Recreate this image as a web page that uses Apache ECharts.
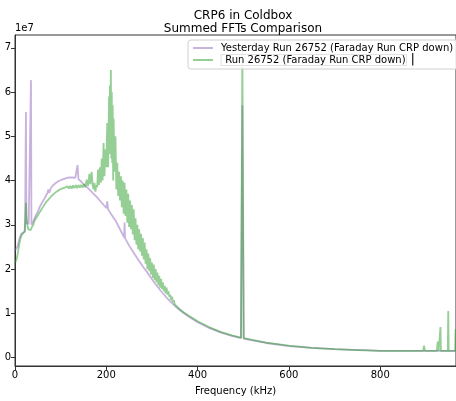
<!DOCTYPE html>
<html>
<head>
<meta charset="utf-8">
<script src="https://cdn.jsdelivr.net/npm/echarts@6/dist/echarts.min.js"></script>
<style>
  html, body { margin: 0; padding: 0; background: #fff; }
  #main { width: 456px; height: 401px; }
</style>
</head>
<body>
<div id="main"></div>
<script>
// values in units of 1e7, frequency in kHz
const yesterdayName = 'Yesterday Run 26752 (Faraday Run CRP down)'
const todayName = ' Run 26752 (Faraday Run CRP down)'

const yesterday = [
  [0, 2.42], [5, 2.5], [10, 2.7], [14, 2.8], [18, 2.82], [22, 2.85], [23, 4.3], [24, 5.55], [25, 3.05],
  [30, 3.02], [34, 2.98], [35, 6.27], [36, 3.0], [40, 3.08], [45, 3.2], [50, 3.3], [53, 3.38],
  [56, 3.4], [59, 3.5], [62, 3.52], [65, 3.6], [68, 3.62], [71, 3.72], [73, 3.8], [75, 3.72],
  [78, 3.82], [81, 3.84], [84, 3.9], [87, 3.88], [90, 3.95], [93, 3.94], [96, 3.99], [99, 3.97],
  [102, 4.02], [105, 4.0], [108, 4.04], [111, 4.02], [114, 4.06], [117, 4.04], [120, 4.07],
  [123, 4.05], [126, 4.07], [129, 4.05], [132, 4.06], [135, 4.04], [137, 4.35], [139, 4.03],
  [145, 3.98], [150, 3.92], [160, 3.83], [170, 3.72], [180, 3.62], [190, 3.5], [200, 3.38],
  [202, 3.53], [204, 3.35], [210, 3.25], [220, 3.1], [230, 2.9], [239, 2.72], [240, 3.05],
  [241, 2.7], [250, 2.53], [260, 2.37], [270, 2.21], [280, 2.06], [290, 1.92], [300, 1.77],
  [310, 1.63], [320, 1.5], [330, 1.38], [340, 1.27], [350, 1.17], [360, 1.08], [370, 1.0],
  [380, 0.93], [400, 0.8], [425, 0.67], [450, 0.57], [475, 0.49], [495, 0.44], [498, 5.7],
  [501, 0.43], [520, 0.39], [550, 0.33], [600, 0.26], [650, 0.22], [700, 0.19], [750, 0.17],
  [768, 0.17], [769, 0.2], [770, 0.16], [800, 0.15], [850, 0.15], [900, 0.15], [966, 0.15]
]

const today = [
  [0, 2.15], [3, 2.2], [6, 2.35], [9, 2.55], [12, 2.7], [15, 2.78], [18, 2.8], [21, 2.85],
  [23, 3.2], [24, 3.5], [25, 3.2], [27, 3.0], [29, 2.9], [31, 2.92], [34, 2.88], [37, 2.95],
  [40, 3.0], [43, 3.1], [46, 3.08], [49, 3.2], [52, 3.18], [55, 3.3], [58, 3.28], [61, 3.4],
  [64, 3.38], [67, 3.5], [70, 3.47], [73, 3.57], [76, 3.55], [79, 3.64], [82, 3.6], [85, 3.7],
  [88, 3.67], [91, 3.75], [94, 3.71], [97, 3.79], [100, 3.75], [103, 3.82], [106, 3.78],
  [109, 3.84], [112, 3.8], [115, 3.87], [118, 3.82], [121, 3.88], [124, 3.82], [127, 3.89],
  [130, 3.83], [133, 3.9], [136, 3.83], [139, 3.9], [142, 3.84], [145, 3.9], [148, 3.84],
  [151, 3.92], [154, 3.85], [157, 4.02], [160, 3.88], [163, 4.15], [165, 3.92], [168, 4.2],
  [170, 3.9], [172, 3.8], [174, 3.95], [176, 3.75], [178, 3.9], [180, 3.85], [182, 4.25],
  [184, 3.9], [186, 4.3], [188, 3.95], [190, 4.5], [192, 4.0], [194, 4.85], [196, 4.1],
  [198, 4.7], [200, 4.3], [202, 5.3], [204, 4.3], [206, 5.9], [207, 4.6], [208, 6.15],
  [209, 4.8], [210, 6.5], [211, 4.5], [212, 6.0], [213, 4.4], [214, 5.7], [215, 4.0],
  [216, 5.4], [218, 4.2], [220, 5.0], [222, 3.8], [224, 4.4], [226, 3.65], [228, 4.2],
  [230, 3.55], [232, 4.1], [234, 3.4], [236, 4.0], [238, 3.25], [240, 3.95], [242, 3.2],
  [244, 3.8], [246, 3.05], [248, 3.7], [250, 2.95], [252, 3.55], [254, 2.9], [256, 3.45],
  [258, 2.78], [260, 3.35], [262, 2.65], [264, 3.15], [266, 2.55], [268, 3.0], [270, 2.45],
  [272, 2.9], [274, 2.4], [276, 2.8], [278, 2.3], [280, 2.7], [282, 2.22], [284, 2.6],
  [286, 2.12], [288, 2.45], [290, 2.0], [292, 2.35], [294, 1.95], [296, 2.25], [298, 1.88],
  [300, 2.15], [302, 1.8], [304, 2.1], [306, 1.75], [308, 2.0], [310, 1.7], [312, 1.92],
  [314, 1.63], [316, 1.85], [318, 1.58], [320, 1.78], [322, 1.55], [324, 1.7], [326, 1.5],
  [328, 1.62], [330, 1.45], [332, 1.58], [334, 1.42], [336, 1.5], [338, 1.37], [340, 1.42],
  [342, 1.3], [344, 1.38], [346, 1.25], [348, 1.3], [350, 1.2], [355, 1.15], [360, 1.1],
  [370, 1.02], [380, 0.95], [400, 0.82], [425, 0.69], [450, 0.58], [475, 0.5], [495, 0.45],
  [498, 7.0], [501, 0.44], [520, 0.4], [550, 0.34], [600, 0.27], [650, 0.22], [700, 0.19],
  [750, 0.17], [800, 0.15], [850, 0.15], [894, 0.15], [896, 0.27], [898, 0.15], [924, 0.15],
  [926, 0.36], [928, 0.15], [931, 0.15], [932, 0.69], [933, 0.15], [948, 0.15], [949, 1.05],
  [950, 0.15], [964, 0.15], [965, 0.64], [966, 0.15]
]

const yTicks = [0, 1, 2, 3, 4, 5, 6, 7]
const xTicks = [0, 200, 400, 600, 800]

const font = 'DejaVu Sans'
const chart = echarts.init(document.getElementById('main'))

const option = {
  animation: false,
  textStyle: { fontFamily: font, color: '#000' },
  title: {
    text: 'CRP6 in Coldbox\nSummed FFTs Comparison',
    left: 238,
    textAlign: 'center',
    top: 4,
    textStyle: { fontFamily: font, fontSize: 12, fontWeight: 'normal', lineHeight: 13, color: '#000' }
  },
  graphic: [
    { type: 'text', left: 15, top: 23, style: { text: '1e7', font: '10px "DejaVu Sans"', fill: '#000' } }
  ],
  legend: {
    left: 188,
    top: 40,
    orient: 'vertical',
    align: 'left',
    padding: [3, 6, 3, 5],
    itemGap: 1,
    itemWidth: 20,
    itemHeight: 2,
    icon: 'rect',
    backgroundColor: 'rgba(255,255,255,0.85)',
    borderColor: '#d0d0d0',
    borderWidth: 1,
    borderRadius: 3,
    textStyle: {
      fontFamily: font, fontSize: 10, color: '#000', padding: [0, 0, 0, 3],
      rich: {
        box: { fontFamily: font, fontSize: 10, borderColor: '#e2e2e2', borderWidth: 1, padding: [1, 1, 0, 1] },
        bar: { fontFamily: font, fontSize: 12, fontWeight: 'bold', color: '#333', padding: [0, 0, 0, 4] }
      }
    },
    formatter: function (name) {
      if (name === todayName) return '{box|' + name + '}{bar||}'
      return name
    },
    data: [yesterdayName, todayName]
  },
  grid: { left: 15, right: 0, top: 35, bottom: 34, show: true, borderColor: '#333', borderWidth: 1 },
  xAxis: {
    type: 'value',
    min: 0,
    max: 966,
    name: 'Frequency (kHz)',
    nameLocation: 'middle',
    nameGap: 20,
    nameTextStyle: { fontFamily: font, fontSize: 10, color: '#000' },
    axisLine: { show: true, onZero: false, lineStyle: { color: '#333', width: 1 } },
    axisTick: { show: true, length: 4, lineStyle: { color: '#333' }, customValues: xTicks },
    axisLabel: { fontFamily: font, fontSize: 10, color: '#000', margin: 4, customValues: xTicks },
    splitLine: { show: false }
  },
  yAxis: {
    type: 'value',
    min: -0.19,
    max: 7.29,
    axisLine: { show: true, onZero: false, lineStyle: { color: '#333', width: 1 } },
    axisTick: { show: true, length: 4, lineStyle: { color: '#333' }, customValues: yTicks },
    axisLabel: { fontFamily: font, fontSize: 10, color: '#000', margin: 4, customValues: yTicks },
    splitLine: { show: false }
  },
  series: [
    {
      name: yesterdayName,
      type: 'line',
      data: yesterday,
      showSymbol: false,
      color: 'rgba(148,103,189,0.5)',
      lineStyle: { width: 1.8, color: 'rgba(148,103,189,0.5)' }
    },
    {
      name: todayName,
      type: 'line',
      data: today,
      showSymbol: false,
      color: 'rgba(44,160,44,0.5)',
      lineStyle: { width: 1.8, color: 'rgba(44,160,44,0.5)' }
    }
  ]
}

chart.setOption(option)
</script>
</body>
</html>
